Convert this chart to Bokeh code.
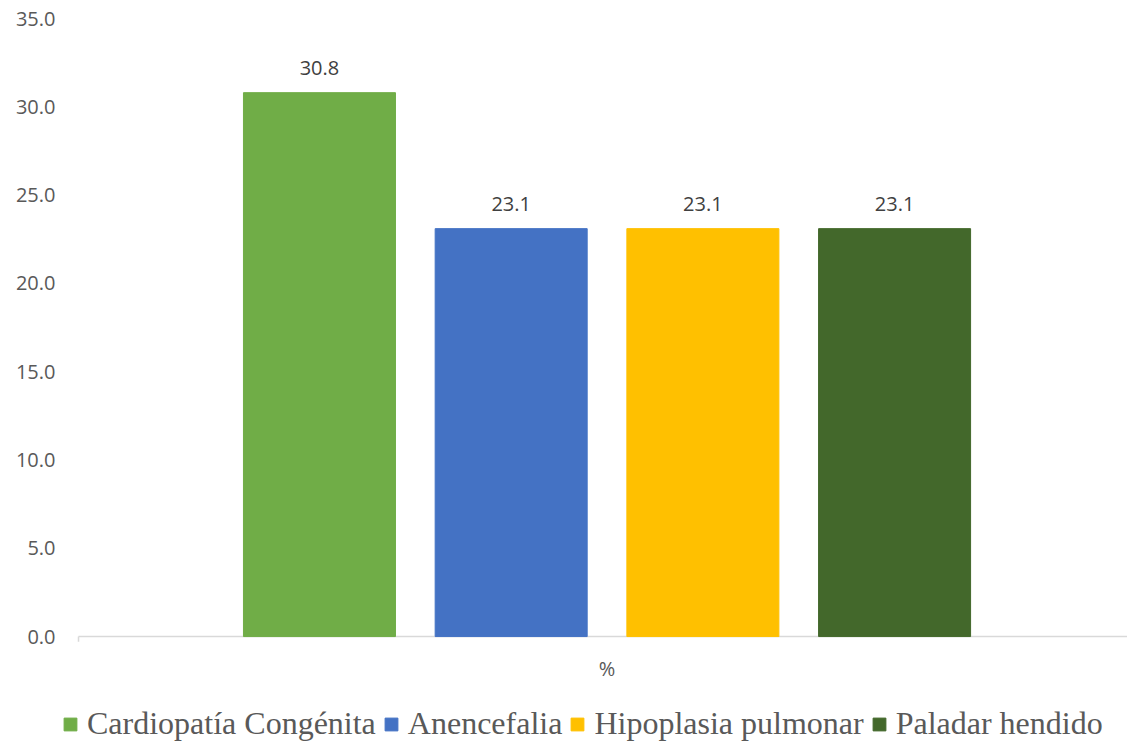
from bokeh.plotting import figure
from bokeh.models import ColumnDataSource, Legend, LegendItem, Range1d, NumeralTickFormatter, FixedTicker, LabelSet, Label
from bokeh.core.properties import value
from bokeh.embed import file_html
from bokeh.resources import INLINE

categories = ["Cardiopatía Congénita", "Anencefalia", "Hipoplasia pulmonar", "Paladar hendido"]
values = [30.8, 23.1, 23.1, 23.1]
colors = ["#70AD47", "#4472C4", "#FFC000", "#43682B"]
group_label = "%"
y_ticks = [0, 5, 10, 15, 20, 25, 30, 35]

xs = list(range(len(categories)))
src = ColumnDataSource(dict(
    x=xs,
    top=values,
    cat=categories,
    color=colors,
    lbl=[f"{v:.1f}" for v in values],
))

X0, X1 = -1.377, 4.215
AXIS_START = -1.257

p = figure(width=1127, height=742, output_backend="svg", toolbar_location=None,
           x_range=Range1d(X0, X1), y_range=Range1d(-6.0, 35),
           min_border_left=55, min_border_right=0, min_border_top=18, min_border_bottom=0)
p.outline_line_color = None
p.background_fill_color = "white"
p.border_fill_color = "white"
p.xgrid.visible = False
p.ygrid.visible = False
p.xaxis.visible = False

# category axis line at zero with small end tick
p.segment(x0=[AXIS_START], y0=[0], x1=[X1], y1=[0], line_color="#D9D9D9", line_width=1.5)
p.segment(x0=[AXIS_START], y0=[0], x1=[AXIS_START], y1=[-0.3], line_color="#D9D9D9", line_width=1.5)

r = p.vbar(x="x", top="top", width=0.793, color="color", source=src)

labels = LabelSet(x="x", y="top", text="lbl", source=src, text_align="center",
                  text_baseline="bottom", y_offset=18, text_font=value("Open Sans"),
                  text_font_size=value("20px"), text_color=value("#404040"))
p.add_layout(labels)

p.add_layout(Label(x=sum(xs) / len(xs), y=0, y_offset=-32, text=group_label,
                   text_align="center", text_baseline="middle", text_font="Open Sans",
                   text_font_size="20px", text_color="#595959"))

p.yaxis.ticker = FixedTicker(ticks=y_ticks)
p.yaxis.formatter = NumeralTickFormatter(format="0.0")
p.yaxis.axis_line_color = None
p.yaxis.major_tick_line_color = None
p.yaxis.major_tick_out = 0
p.yaxis.major_tick_in = 0
p.yaxis.minor_tick_line_color = None
p.yaxis.major_label_text_font = "Open Sans"
p.yaxis.major_label_text_font_size = "20px"
p.yaxis.major_label_text_color = "#595959"
p.yaxis.major_label_standoff = 0

items = [LegendItem(label=c, renderers=[r], index=i) for i, c in enumerate(categories)]
legend = Legend(items=items, orientation="horizontal", location=(7, 0),
                label_text_font="Liberation Serif", label_text_font_size="32px",
                label_text_color="#595959", glyph_width=16, glyph_height=16,
                label_standoff=9, spacing=7, padding=0, margin=0,
                border_line_color=None, background_fill_alpha=0)
p.add_layout(legend, "center")

open("out.html", "w").write(file_html(p, INLINE))
